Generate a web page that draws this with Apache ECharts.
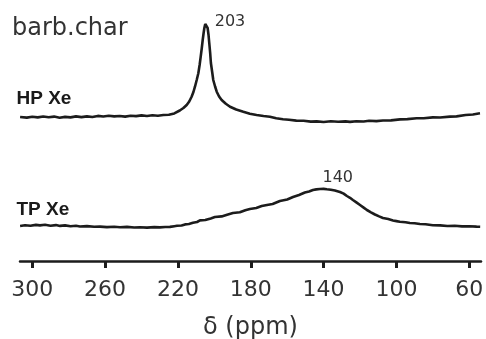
<!DOCTYPE html>
<html>
<head>
<meta charset="utf-8">
<script src="https://cdn.jsdelivr.net/npm/echarts@6/dist/echarts.min.js"></script>
<style>
html,body{margin:0;padding:0;background:#fff;}
#c{width:486px;height:339px;}
</style>
</head>
<body>
<div id="c"></div>
<script>
// x axis: chemical shift in ppm (reversed)
const xTicks = [300, 260, 220, 180, 140, 100, 60];
const xRange = [53.55, 306.75];
// vertical span of the stacked-spectra canvas (arbitrary intensity units)
const yRange = [0, 261];

// HP Xe trace [ppm, intensity incl. vertical offset]
const hpXe = [
[306.7,144.0],[303,143.4],[300,144.2],[297,143.6],[294,144.5],[291,143.8],[288,144.4],[285,143.3],[282,144.1],[279,143.6],
[276,144.6],[273,143.9],[270,144.6],[267,144.0],[264,145.1],[261,144.5],[258,145.2],[255,144.6],[252,145.0],[249,144.4],
[246,145.3],[243,144.9],[240,145.6],[237,145.0],[234,145.8],[231,145.3],[228,146.0],[225,146.3],[222,147.6],[219,150.5],
[217,153.0],[215.2,156],[213.8,159.5],[212.5,164.3],[211.5,169],[210.65,174.3],[209.7,181],[208.8,187.7],[208.1,196],[207.5,204.3],
[206.9,213],[206.4,221],[205.9,228],[205.5,233],[205.0,237],[204.6,239],[204.2,237],[203.7,233],[203.2,226],[202.8,218],
[202.3,208],[201.9,198],[201.2,189],[200.6,181],[199.6,174.5],[198.7,169.3],[197.4,164.5],[196.0,161],[193.7,157.2],[191.4,154.3],
[188,151.5],[184.1,149.3],[180.5,147.3],[176.8,146.0],[173,145.0],[169.5,144.3],[166,142.8],[162.3,141.7],[159,141.3],[155,140.4],
[151,140.2],[147,139.4],[143.8,139.6],[140,139.0],[136,139.7],[132,139.2],[128,139.6],[125.5,139.1],[122,139.8],[118,139.5],
[115,140.2],[111,139.9],[107.4,140.5],[103,140.6],[98,141.6],[94,141.9],[88.9,142.8],[85,142.7],[80,143.6],[76,143.5],
[70.6,144.4],[67,144.6],[62,146.0],[58,146.5],[54.1,147.7]
];

// TP Xe trace [ppm, intensity incl. vertical offset]
const tpXe = [
[306.7,35.0],[304,35.8],[301,35.2],[298,36.1],[295.8,35.6],[293,36.2],[290,35.3],[287,35.9],[284.8,35.1],[282,35.6],
[279,34.7],[276,35.2],[273.8,34.5],[270,34.9],[266,34.2],[262.8,34.4],[259,33.9],[255,34.3],[251.8,33.8],[248,34.1],
[244,33.5],[240.9,33.8],[237,33.4],[233,33.9],[229.9,33.6],[227,34.0],[224.4,34.1],[222,34.8],[220.5,35.2],[218,35.5],
[216.1,36.6],[214,37.0],[211.75,38.2],[209.5,39.0],[207.9,40.6],[205,41.0],[202,42.6],[199.7,44.0],[196,44.6],[193,46.3],
[189.8,48.0],[186,48.7],[183,50.8],[180.5,52.0],[177,53.0],[174,54.9],[171.1,56.0],[168,57.0],[164,60.0],[160,61.5],
[156.8,64.0],[153.5,66.0],[150.3,68.5],[148,69.5],[145.85,71.0],[144,71.6],[142,72.0],[140,72.1],[138.2,71.7],[136,71.3],
[133.8,70.5],[131,69.0],[129,67.4],[127.2,65.0],[125.5,63.2],[123.9,61.0],[122,58.6],[120,56.0],[118,53.4],[116.2,51.0],
[114,48.7],[111.8,46.5],[109.5,44.6],[107.4,43.0],[104.5,41.9],[101.9,40.5],[100,39.9],[98.1,39.3],[95,38.8],[92.6,38.0],
[90,37.8],[87.1,37.0],[84,36.8],[80,35.7],[76,35.6],[72,35.0],[68,35.2],[64,34.6],[60,34.8],[56,34.4],[54,34.3]
];

const peakLabels = [
  { text: '203', coord: [204.6, 239], offset: [24, 0] },
  { text: '140', coord: [141, 72], offset: [16, -11] }
];
const traceNames = ['HP Xe', 'TP Xe'];
const panelTitle = 'barb.char';
const axisName = 'δ (ppm)';

const ink = '#1c1c1c';
const chart = echarts.init(document.getElementById('c'), null, { renderer: 'canvas' });

function mp(p) {
  return {
    symbol: 'circle', symbolSize: 1, silent: true,
    itemStyle: { color: 'rgba(0,0,0,0)' },
    label: { show: true, position: 'inside', offset: p.offset, formatter: p.text,
             color: '#333', fontFamily: 'DejaVu Sans', fontSize: 16 },
    data: [{ coord: p.coord }]
  };
}

chart.setOption({
  animation: false,
  backgroundColor: '#fff',
  grid: { left: 20, right: 5, top: 0, bottom: 78, containLabel: false, outerBoundsMode: 'none' },
  xAxis: {
    type: 'value', inverse: true, min: xRange[0], max: xRange[1],
    splitLine: { show: false },
    axisLine: { show: true, lineStyle: { color: ink, width: 2.5 } },
    axisTick: { show: true, inside: false, length: 7, customValues: xTicks,
                lineStyle: { color: ink, width: 3 } },
    axisLabel: { show: true, customValues: xTicks, margin: 18,
                 color: '#333', fontFamily: 'DejaVu Sans', fontSize: 22 },
    name: axisName, nameLocation: 'middle', nameGap: 55,
    nameTextStyle: { color: '#333', fontFamily: 'DejaVu Sans', fontSize: 24 }
  },
  yAxis: { type: 'value', min: yRange[0], max: yRange[1], show: false, splitLine: { show: false } },
  series: [
    { name: traceNames[0], type: 'line', data: hpXe, showSymbol: false, symbol: 'none',
      lineStyle: { color: ink, width: 2.6 }, markPoint: mp(peakLabels[0]) },
    { name: traceNames[1], type: 'line', data: tpXe, showSymbol: false, symbol: 'none',
      lineStyle: { color: ink, width: 2.6 }, markPoint: mp(peakLabels[1]) }
  ],
  graphic: [
    { type: 'text', left: 12, top: 17, style: { text: panelTitle, fill: '#333',
      font: '24px "DejaVu Sans"' } },
    { type: 'text', left: 16.5, top: 89, style: { text: traceNames[0], fill: '#1a1a1a',
      font: 'bold 19px "Liberation Sans"' } },
    { type: 'text', left: 16.5, top: 200, style: { text: traceNames[1], fill: '#1a1a1a',
      font: 'bold 19px "Liberation Sans"' } }
  ]
});
</script>
</body>
</html>
